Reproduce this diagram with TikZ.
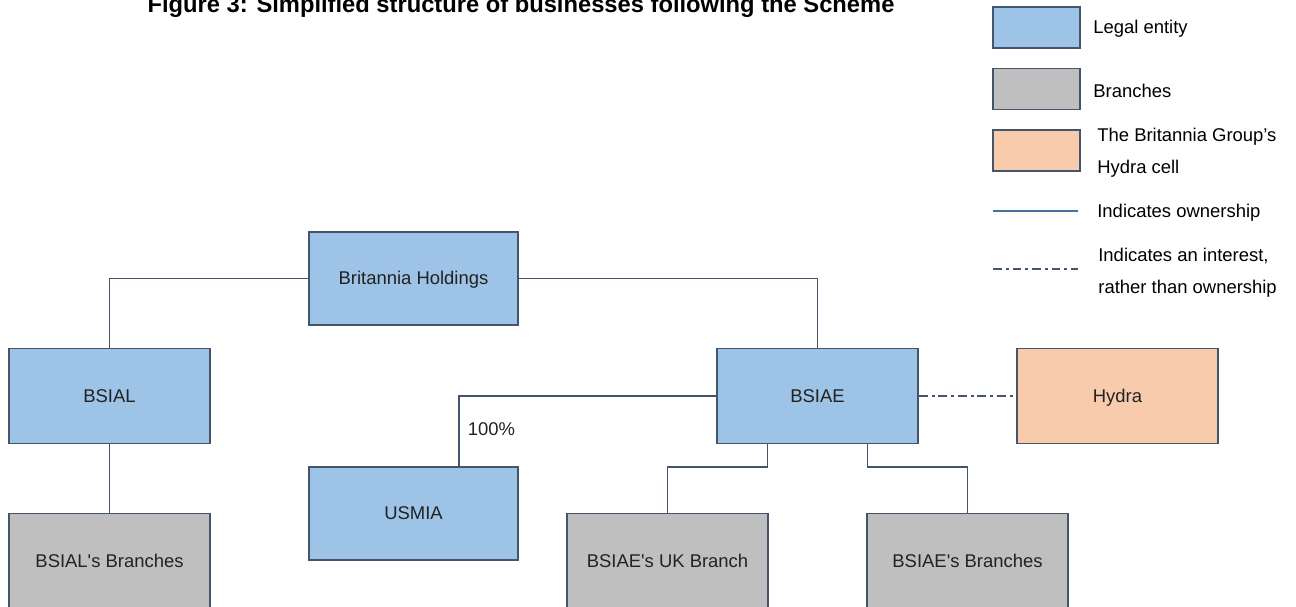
\documentclass[tikz,border=0pt]{standalone}
\usepackage{fontspec}
\setmainfont{Liberation Sans}
\usetikzlibrary{positioning}
\definecolor{entityblue}{RGB}{157,195,230}
\definecolor{branchgrey}{RGB}{191,191,191}
\definecolor{hydraorange}{RGB}{248,203,173}
\definecolor{edgeslate}{RGB}{68,84,106}
\definecolor{ownblue}{RGB}{68,114,160}
\definecolor{txtdark}{RGB}{34,34,34}

\tikzset{
  unitbox/.style={draw=edgeslate, line width=1.1pt, font=\fontsize{10.5}{12}\selectfont, text=txtdark, text height=0.72em, text depth=0em, minimum width=4.02cm, minimum height=1.9cm, inner sep=0pt},
  entity/.style={unitbox, fill=entityblue},
  branch/.style={unitbox, fill=branchgrey},
  cell/.style={unitbox, fill=hydraorange},
  owns/.style={draw=edgeslate, line width=1.1pt},
  interest/.style={draw=edgeslate, line width=1.1pt, dash pattern=on 5pt off 2.2pt on 1.7pt off 2.2pt},
  keybox/.style={draw=edgeslate, line width=1.1pt, minimum width=1.74cm, minimum height=0.82cm, inner sep=0pt},
  keytext/.style={font=\fontsize{10.5}{18}\selectfont, anchor=base west, align=left, inner sep=0pt, text=black},
}

\begin{document}
\begin{tikzpicture}[x=0.02cm, y=-0.02cm]
  \useasboundingbox (0,0) rectangle (1296,606);

  \node[font=\bfseries\fontsize{13.5}{16}\selectfont, anchor=base] (title) at (521,12) {Figure 3: Simplified structure of businesses following the Scheme};

  % Legend (baselines of the last lines)
  \node[keybox, fill=entityblue] (keyentity) at (1036.5,27.5) {};
  \node[keytext] (keyentitytxt) at (1093,33) {Legal entity};
  \node[keybox, fill=branchgrey] (keybranch) at (1036.5,89) {};
  \node[keytext] (keybranchtxt) at (1093,97) {Branches};
  \node[keybox, fill=hydraorange] (keycell) at (1036.5,150.5) {};
  \node[keytext] (keycelltxt) at (1097,173) {The Britannia Group’s\\Hydra cell};
  \coordinate (ownA) at (993,211);
  \coordinate (ownB) at (1078,211);
  \draw[draw=ownblue, line width=1pt] (ownA) -- (ownB);
  \node[keytext] (keyowntxt) at (1097,217) {Indicates ownership};
  \coordinate (intA) at (993,269);
  \coordinate (intB) at (1078,269);
  \draw[interest] (intA) -- (intB);
  \node[keytext] (keyinttxt) at (1098,293) {Indicates an interest,\\rather than ownership};

  % Entities
  \node[entity, minimum width=4.18cm, minimum height=1.86cm] (holdings) at (413.5,278.5) {Britannia Holdings};
  \node[entity] (bsial) at (109.5,396) {BSIAL};
  \node[entity] (bsiae) at (817.5,396) {BSIAE};
  \node[cell] (hydra) at (1117.5,396) {Hydra};
  \node[entity, minimum width=4.18cm, minimum height=1.86cm] (usmia) at (413.5,513.5) {USMIA};

  % Branches
  \node[branch] (bsialbr) at (109.5,561) {BSIAL\textquotesingle s Branches};
  \node[branch] (ukbranch) at (667.5,561) {BSIAE\textquotesingle s UK Branch};
  \node[branch] (bsiaebr) at (967.5,561) {BSIAE\textquotesingle s Branches};

  % Ownership lines
  \draw[owns] (holdings.west) -| (bsial.north);
  \draw[owns] (holdings.east) -| (bsiae.north);
  \draw[owns] (bsial.south) -- (bsialbr.north);
  \draw[owns] (bsiae.west) -| ([xshift=0.91cm]usmia.north)
    node[pos=0.75, anchor=west, inner sep=0pt, xshift=0.16cm, yshift=0.04cm, font=\fontsize{10.5}{12}\selectfont, text=txtdark] (pct) {100\%};
  \draw[owns] ([xshift=-1cm]bsiae.south) -- ++(0,23) -| (ukbranch.north);
  \draw[owns] ([xshift=1cm]bsiae.south) -- ++(0,23) -| (bsiaebr.north);
  \draw[interest] (bsiae.east) -- (hydra.west);
\end{tikzpicture}
\end{document}
